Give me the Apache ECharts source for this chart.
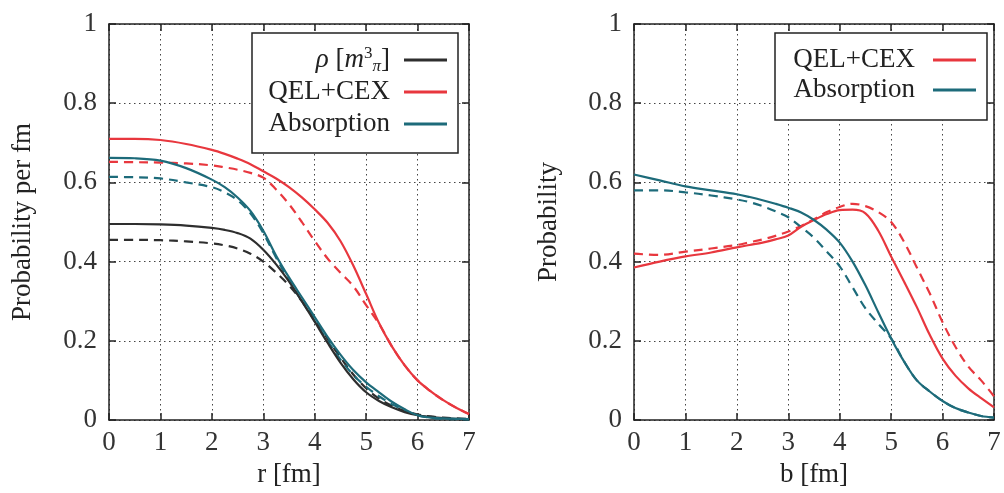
<!DOCTYPE html>
<html>
<head>
<meta charset="utf-8">
<script src="https://cdn.jsdelivr.net/npm/echarts@6/dist/echarts.min.js"></script>
<style>
  html, body { margin: 0; padding: 0; background: #fff; }
  #chart { width: 1004px; height: 493px; }
</style>
</head>
<body>
<div id="chart"></div>
<script>
// Sample positions shared by every curve (fm)
const xs = [0, 0.5, 1, 1.5, 2, 2.25, 2.5, 2.75, 3, 3.25, 3.5, 3.75, 4, 4.25, 4.5, 4.75, 5, 5.25, 5.5, 5.75, 6, 6.25, 6.5, 6.75, 7];

// Left panel: probability per fm versus radius r
const rhoSolid   = [0.495, 0.495, 0.494, 0.491, 0.485, 0.480, 0.472, 0.458, 0.430, 0.393, 0.350, 0.300, 0.248, 0.195, 0.145, 0.103, 0.070, 0.048, 0.032, 0.020, 0.012, 0.008, 0.005, 0.003, 0.002];
const rhoDashed  = [0.455, 0.455, 0.454, 0.451, 0.446, 0.441, 0.433, 0.420, 0.400, 0.372, 0.340, 0.300, 0.255, 0.205, 0.158, 0.115, 0.080, 0.054, 0.036, 0.023, 0.014, 0.009, 0.006, 0.004, 0.003];
const qelSolidR  = [0.710, 0.710, 0.707, 0.697, 0.682, 0.672, 0.660, 0.646, 0.628, 0.610, 0.588, 0.562, 0.532, 0.498, 0.452, 0.390, 0.318, 0.245, 0.186, 0.138, 0.100, 0.073, 0.050, 0.031, 0.015];
const qelDashedR = [0.652, 0.651, 0.650, 0.648, 0.643, 0.638, 0.632, 0.624, 0.612, 0.582, 0.545, 0.500, 0.452, 0.408, 0.372, 0.338, 0.290, 0.243, 0.186, 0.138, 0.100, 0.073, 0.050, 0.031, 0.015];
const absSolidR  = [0.662, 0.661, 0.655, 0.636, 0.607, 0.588, 0.562, 0.528, 0.478, 0.415, 0.360, 0.310, 0.260, 0.210, 0.165, 0.126, 0.095, 0.070, 0.046, 0.027, 0.012, 0.006, 0.004, 0.003, 0.002];
const absDashedR = [0.614, 0.613, 0.610, 0.600, 0.588, 0.575, 0.555, 0.522, 0.472, 0.410, 0.352, 0.300, 0.250, 0.200, 0.153, 0.114, 0.084, 0.060, 0.040, 0.024, 0.012, 0.006, 0.003, 0.002, 0.001];

// Right panel: probability versus impact parameter b
const qelSolidB  = [0.385, 0.400, 0.413, 0.423, 0.436, 0.442, 0.448, 0.456, 0.466, 0.488, 0.505, 0.520, 0.530, 0.531, 0.522, 0.478, 0.413, 0.350, 0.285, 0.215, 0.155, 0.112, 0.080, 0.055, 0.032];
const qelDashedB = [0.420, 0.417, 0.425, 0.433, 0.442, 0.449, 0.456, 0.465, 0.476, 0.490, 0.507, 0.525, 0.538, 0.546, 0.540, 0.525, 0.500, 0.450, 0.385, 0.320, 0.247, 0.185, 0.135, 0.100, 0.060];
const absSolidB  = [0.620, 0.605, 0.590, 0.580, 0.570, 0.563, 0.555, 0.546, 0.536, 0.524, 0.505, 0.480, 0.448, 0.400, 0.340, 0.272, 0.206, 0.148, 0.100, 0.072, 0.048, 0.030, 0.019, 0.010, 0.006];
const absDashedB = [0.580, 0.580, 0.575, 0.567, 0.557, 0.550, 0.540, 0.527, 0.512, 0.487, 0.460, 0.425, 0.388, 0.335, 0.282, 0.243, 0.206, 0.148, 0.100, 0.072, 0.048, 0.030, 0.019, 0.010, 0.006];

const xTicks = [0, 1, 2, 3, 4, 5, 6, 7];
const yTicks = [0, 0.2, 0.4, 0.6, 0.8, 1];

const BLACK = '#2e2e2e';
const RED = '#e8373e';
const TEAL = '#1d6b7a';
const FONT = '"Liberation Serif", "DejaVu Serif", serif';
const FS = 27;
const DASH = [9, 6];

const pairs = (vals) => xs.map((x, i) => [x, vals[i]]);

function mainX(gi, name) {
  return {
    type: 'value', gridIndex: gi, min: 0, max: 7, interval: 1, position: 'bottom',
    name: name, nameLocation: 'middle', nameGap: 41,
    nameTextStyle: { fontFamily: FONT, fontSize: FS, color: '#222' },
    axisLine: { show: true, onZero: false, lineStyle: { color: '#222', width: 1.5 } },
    axisTick: { show: true, inside: true, length: 7, lineStyle: { color: '#222', width: 1.5 } },
    axisLabel: { fontFamily: FONT, fontSize: FS, color: '#333', margin: 9,
                 formatter: (v) => xTicks.includes(v) ? String(v) : '' },
    splitLine: { show: true, lineStyle: { color: '#444', width: 1, type: [1.5, 3.5] } }
  };
}
function mirrorX(gi) {
  return {
    type: 'value', gridIndex: gi, min: 0, max: 7, interval: 1, position: 'top',
    axisLine: { show: true, onZero: false, lineStyle: { color: '#222', width: 1.5 } },
    axisTick: { show: true, inside: true, length: 7, lineStyle: { color: '#222', width: 1.5 } },
    axisLabel: { show: false }, splitLine: { show: false }
  };
}
function mainY(gi, name, gap) {
  return {
    type: 'value', gridIndex: gi, min: 0, max: 1, interval: 0.2, position: 'left',
    name: name, nameLocation: 'middle', nameGap: gap,
    nameTextStyle: { fontFamily: FONT, fontSize: FS, color: '#222' },
    axisLine: { show: true, onZero: false, lineStyle: { color: '#222', width: 1.5 } },
    axisTick: { show: true, inside: true, length: 7, lineStyle: { color: '#222', width: 1.5 } },
    axisLabel: { fontFamily: FONT, fontSize: FS, color: '#333', margin: 12,
                 formatter: (v) => { const t = yTicks.find(k => Math.abs(k - v) < 1e-9); return t === undefined ? '' : String(t); } },
    splitLine: { show: true, lineStyle: { color: '#444', width: 1, type: [1.5, 3.5] } }
  };
}
function mirrorY(gi) {
  return {
    type: 'value', gridIndex: gi, min: 0, max: 1, interval: 0.2, position: 'right',
    axisLine: { show: true, onZero: false, lineStyle: { color: '#222', width: 1.5 } },
    axisTick: { show: true, inside: true, length: 7, lineStyle: { color: '#222', width: 1.5 } },
    axisLabel: { show: false }, splitLine: { show: false }
  };
}
function curve(name, vals, color, dashed, axisIdx) {
  return {
    type: 'line', name: name, xAxisIndex: axisIdx, yAxisIndex: axisIdx,
    data: pairs(vals), smooth: 0.35, showSymbol: false, symbol: 'none', silent: true,
    lineStyle: { color: color, width: 2.2, type: dashed ? DASH : 'solid' },
    itemStyle: { color: color }, z: dashed ? 3 : 4
  };
}

const legendText = {
  fontFamily: FONT, fontSize: FS, color: '#222', align: 'right', lineHeight: 30,
  rich: {
    it:  { fontFamily: FONT, fontStyle: 'italic', fontSize: FS, color: '#222', lineHeight: 30 },
    txt: { fontFamily: FONT, fontSize: FS, color: '#222', lineHeight: 30 },
    sup: { fontFamily: FONT, fontSize: 17, color: '#222', verticalAlign: 'top', lineHeight: 30, padding: [0, 0, 8, 0] },
    sub: { fontFamily: FONT, fontStyle: 'italic', fontSize: 17, color: '#222', verticalAlign: 'bottom', lineHeight: 30, padding: [6, 0, 0, 0] }
  }
};

const RHO = 'ρ [m³π]';
const QEL_L = 'QEL+CEX';
const ABS_L = 'Absorption';
const QEL_R = 'QEL+CEX ';
const ABS_R = 'Absorption ';

const option = {
  animation: false,
  backgroundColor: '#fff',
  grid: [
    { left: 109, top: 24, width: 360, height: 402 },
    { left: 634, top: 24, width: 360, height: 402 }
  ],
  xAxis: [mainX(0, 'r [fm]'), mirrorX(0), mainX(1, 'b [fm]'), mirrorX(1)],
  yAxis: [mainY(0, 'Probability per fm', 73), mirrorY(0), mainY(1, 'Probability', 72), mirrorY(1)],
  legend: [
    {
      data: [RHO, QEL_L, ABS_L], orient: 'vertical', left: 252, top: 33,
      align: 'right', icon: 'rect', itemWidth: 43, itemHeight: 3, itemGap: 2,
      padding: [12, 11, 14, 10],
      borderColor: '#222', borderWidth: 1.5, backgroundColor: '#fff',
      selectedMode: false,
      textStyle: Object.assign({ width: 128, padding: [0, 9, 0, 0] }, legendText),
      formatter: (n) => n === RHO ? '{it|ρ}{txt| [}{it|m}{sup|3}{sub|π}{txt|]}' : '{txt|' + n + '}'
    },
    {
      data: [QEL_R, ABS_R], orient: 'vertical', left: 775, top: 33,
      align: 'right', icon: 'rect', itemWidth: 43, itemHeight: 3, itemGap: 0,
      padding: [12, 11, 15, 10],
      borderColor: '#222', borderWidth: 1.5, backgroundColor: '#fff',
      selectedMode: false,
      textStyle: Object.assign({ width: 130, padding: [0, 13, 0, 0] }, legendText),
      formatter: (n) => '{txt|' + n.trim() + '}'
    }
  ],
  series: [
    curve(RHO, rhoSolid, BLACK, false, 0),
    curve('rho-dashed', rhoDashed, BLACK, true, 0),
    curve(QEL_L, qelSolidR, RED, false, 0),
    curve('qel-dashed-r', qelDashedR, RED, true, 0),
    curve(ABS_L, absSolidR, TEAL, false, 0),
    curve('abs-dashed-r', absDashedR, TEAL, true, 0),
    curve(QEL_R, qelSolidB, RED, false, 2),
    curve('qel-dashed-b', qelDashedB, RED, true, 2),
    curve(ABS_R, absSolidB, TEAL, false, 2),
    curve('abs-dashed-b', absDashedB, TEAL, true, 2)
  ]
};

const chart = echarts.init(document.getElementById('chart'), null, { renderer: 'canvas' });
chart.setOption(option);
</script>
</body>
</html>
